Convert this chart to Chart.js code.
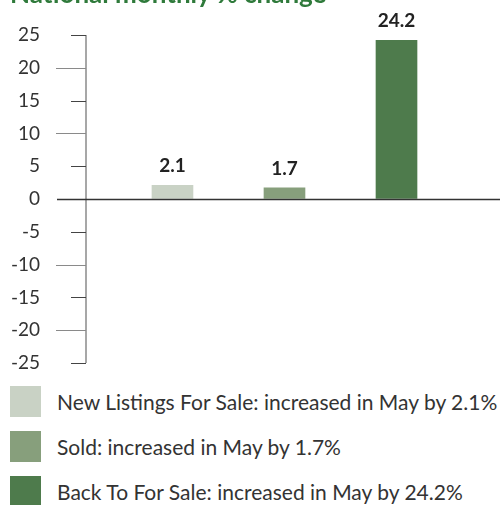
<!DOCTYPE html>
<html>
<head>
<meta charset="utf-8">
<script src="https://cdn.jsdelivr.net/npm/chart.js@4/dist/chart.umd.min.js"></script>
<style>
    body { margin: 0; background: #fff; font-family: Lato, "Open Sans", sans-serif; }
    #wrap { position: relative; width: 502px; height: 505px; overflow: hidden; }
    #title { position: absolute; left: 10px; top: -22px; font-size: 26px; font-weight: bold; color: #2f7a3b; line-height: 31px; white-space: nowrap; }
    #chart { position: absolute; left: 0; top: 0; }
    #legend { position: absolute; left: 10px; top: 386px; }
    .row { display: flex; align-items: center; height: 31px; margin-bottom: 14px; }
    .box { width: 31px; height: 31px; margin-right: 16px; flex: none; }
    .txt { font-size: 21px; color: #333; white-space: nowrap; }
</style>
</head>
<body>
<div id="wrap">
    <canvas id="chart" width="502" height="380"></canvas>
    <div id="title">National monthly % change</div>
    <div id="legend"></div>
</div>
<script>
// chart data
var categories = ['New Listings For Sale', 'Sold', 'Back To For Sale'];
var changeValues = [2.1, 1.7, 24.2];
var barColors = ['#c9d2c5', '#879f7c', '#4e7b4c'];
var legendTexts = [
    'New Listings For Sale: increased in May by 2.1%',
    'Sold: increased in May by 1.7%',
    'Back To For Sale: increased in May by 24.2%'
];
var yTicks = [25, 20, 15, 10, 5, 0, -5, -10, -15, -20, -25];

// build html legend
var legendEl = document.getElementById('legend');
legendTexts.forEach(function(t, i) {
    var row = document.createElement('div');
    row.className = 'row';
    var box = document.createElement('div');
    box.className = 'box';
    box.style.background = barColors[i];
    var txt = document.createElement('div');
    txt.className = 'txt';
    txt.textContent = t;
    row.appendChild(box);
    row.appendChild(txt);
    legendEl.appendChild(row);
});

// axis line, tick marks and zero line
var axisPlugin = {
    id: 'axisPlugin',
    afterDatasetsDraw: function(chart) {
        var ctx = chart.ctx;
        var area = chart.chartArea;
        var y = chart.scales.y;
        ctx.save();
        ctx.lineWidth = 1.5;
        ctx.strokeStyle = '#8a8a8a';
        ctx.beginPath();
        ctx.moveTo(area.left, y.getPixelForValue(yTicks[0]));
        ctx.lineTo(area.left, y.getPixelForValue(yTicks[yTicks.length - 1]));
        ctx.stroke();
        yTicks.forEach(function(v) {
            if (v === 0) return;
            var py = Math.round(y.getPixelForValue(v)) + 0.5;
            var len = (v % 10 === 0) ? 30 : 15;
            ctx.strokeStyle = (v % 10 === 0) ? '#8a8a8a' : '#444';
            ctx.lineWidth = 1;
            ctx.beginPath();
            ctx.moveTo(area.left - len, py);
            ctx.lineTo(area.left, py);
            ctx.stroke();
        });
        var zy = Math.round(y.getPixelForValue(0)) + 0.5;
        ctx.strokeStyle = '#333';
        ctx.lineWidth = 1.5;
        ctx.beginPath();
        ctx.moveTo(area.left - 29, zy);
        ctx.lineTo(chart.width - 2, zy);
        ctx.stroke();
        ctx.restore();
    }
};

// value labels above bars
var valueLabels = {
    id: 'valueLabels',
    afterDatasetsDraw: function(chart) {
        var ctx = chart.ctx;
        var meta = chart.getDatasetMeta(0);
        ctx.save();
        ctx.font = 'bold 19px Lato';
        ctx.fillStyle = '#222';
        ctx.textAlign = 'center';
        ctx.textBaseline = 'alphabetic';
        meta.data.forEach(function(bar, i) {
            ctx.fillText(changeValues[i].toFixed(1), bar.x, bar.y - 13);
        });
        ctx.restore();
    }
};

var ctx = document.getElementById('chart').getContext('2d');
var chart = new Chart(ctx, {
    type: 'bar',
    data: {
        datasets: [{
            label: 'Monthly % change',
            data: categories.map(function(c, i) { return { x: i + 1, y: changeValues[i] }; }),
            backgroundColor: barColors,
            borderWidth: 0,
            barThickness: 41
        }]
    },
    plugins: [axisPlugin, valueLabels],
    options: {
        responsive: false,
        animation: false,
        layout: { padding: { top: 35, bottom: 17, left: 0, right: 2 } },
        plugins: {
            legend: { display: false },
            tooltip: { enabled: false }
        },
        scales: {
            x: {
                type: 'linear',
                display: false,
                offset: false,
                min: 0.228,
                max: 3.924
            },
            y: {
                min: yTicks[yTicks.length - 1],
                max: yTicks[0],
                afterFit: function(scale) { scale.width = 86; },
                grid: { drawOnChartArea: false, drawTicks: true, tickLength: 42, tickColor: 'transparent' },
                border: { display: false },
                ticks: {
                    stepSize: 5,
                    padding: 4,
                    color: '#333',
                    font: { family: 'Lato', size: 19 }
                }
            }
        }
    }
});
</script>
</body>
</html>
